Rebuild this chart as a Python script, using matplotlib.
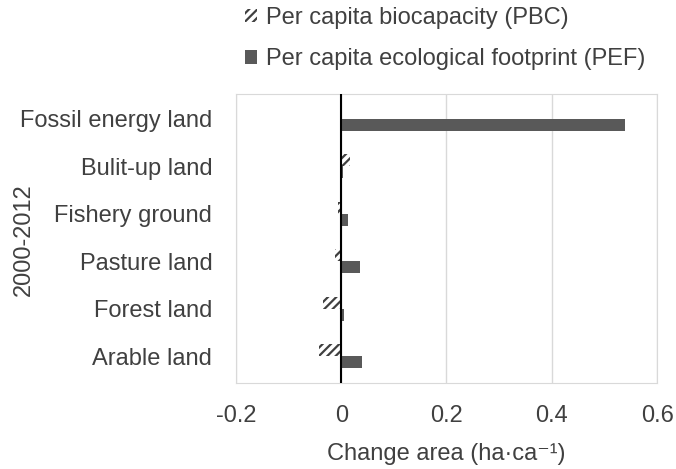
import numpy as np
import matplotlib
matplotlib.use("Agg")
from matplotlib import pyplot as plt

plt.rcParams['font.family'] = ['Liberation Sans', 'DejaVu Sans']
plt.rcParams['hatch.linewidth'] = 1.6

categories = ["Arable land", "Forest land", "Pasture land",
              "Fishery ground", "Bulit-up land", "Fossil energy land"]
pbc = [-0.042, -0.035, -0.011, -0.007, 0.017, 0.0]
pef = [0.040, 0.005, 0.035, 0.012, 0.003, 0.539]

text_color = "#404040"
fs = 17
bar_h = 0.255

fig = plt.figure(figsize=(6.76, 4.69), dpi=100)
ax = fig.add_axes([0.349, 0.183, 0.623, 0.617])

y = np.arange(len(categories))
ax.barh(y + bar_h / 2, pbc, height=bar_h, color="white", edgecolor="#404040",
        linewidth=0, hatch="////", label="Per capita biocapacity (PBC)")
ax.barh(y - bar_h / 2, pef, height=bar_h, color="#595959", linewidth=0,
        label="Per capita ecological footprint (PEF)")

ax.set_xlim(-0.2, 0.6)
ax.set_ylim(-0.57, 5.53)
ax.set_xticks([-0.2, 0, 0.2, 0.4, 0.6])
ax.set_xticklabels(["-0.2", "0", "0.2", "0.4", "0.6"])
ax.set_yticks(y)
ax.set_yticklabels(categories)
ax.tick_params(length=0, labelsize=fs, labelcolor=text_color)
ax.tick_params(axis="x", pad=16)
ax.tick_params(axis="y", pad=17)

ax.grid(axis="x", color="#d9d9d9", linewidth=1)
ax.set_axisbelow(True)
for s in ax.spines.values():
    s.set_color("#d9d9d9")
ax.axvline(0, color="black", linewidth=1.5, zorder=3)

fig.text(446 / 676, 1 - 454 / 469, "Change area (ha·ca⁻¹)", fontsize=fs,
         color=text_color, ha="center", va="center")
fig.text(24 / 676, 1 - 240 / 469, "2000-2012", fontsize=fs, color=text_color,
         rotation=90, ha="center", va="center")

fig.legend(loc="upper left", bbox_to_anchor=(0.362, 0.985), frameon=False,
           fontsize=fs, labelcolor=text_color, handlelength=0.5, handleheight=0.5,
           handletextpad=0.42, labelspacing=0.82, borderpad=0, borderaxespad=0)

fig.savefig("out.png", dpi=100)
